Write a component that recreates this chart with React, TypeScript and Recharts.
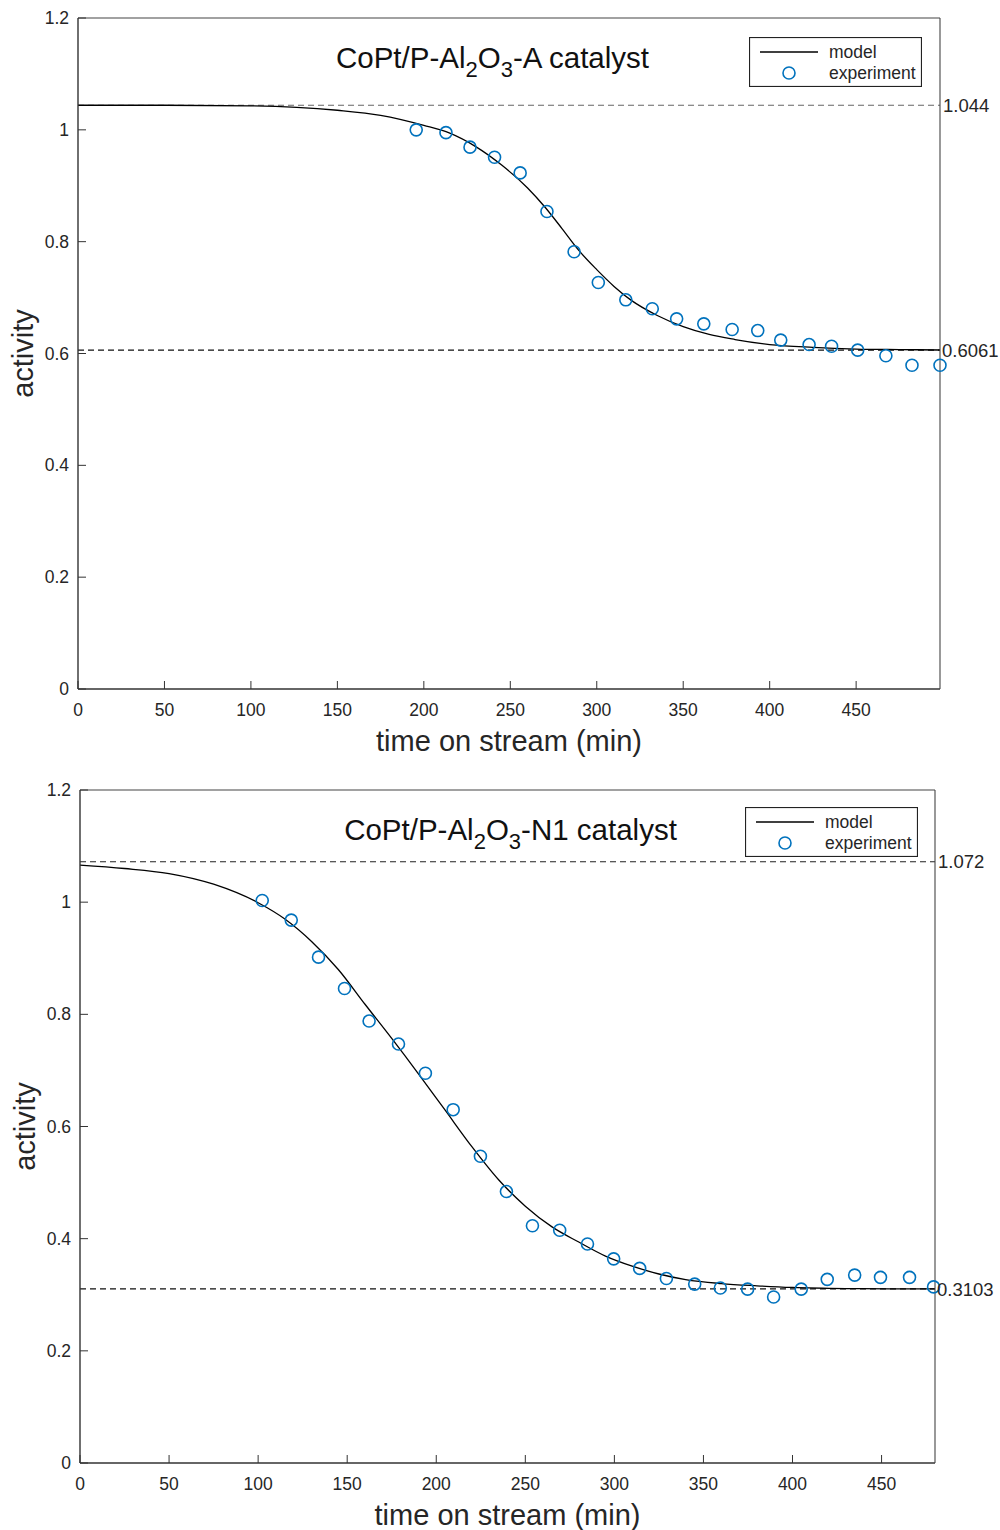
import {
  ComposedChart,
  Legend,
  Line,
  ReferenceLine,
  Scatter,
  XAxis,
  YAxis,
} from "recharts";

// catalyst A: model curve
const TOP_MODEL_T = [0, 50, 100, 150, 175, 200, 215, 230, 245, 260, 270, 280, 290, 300, 310, 320, 335, 350, 365, 380, 400, 425, 450, 475, 498.5];
const TOP_MODEL_A = [1.044, 1.044, 1.043, 1.035, 1.026, 1.008, 0.994, 0.97, 0.937, 0.896, 0.862, 0.823, 0.783, 0.75, 0.72, 0.695, 0.668, 0.648, 0.634, 0.625, 0.616, 0.611, 0.608, 0.607, 0.6063];
// catalyst A: measured points
const TOP_EXP_T = [195.6, 212.8, 226.7, 240.9, 255.7, 271.2, 286.9, 300.9, 316.8, 332.1, 346.2, 361.9, 378.3, 393.1, 406.4, 422.8, 435.8, 450.9, 467.2, 482.3, 498.5];
const TOP_EXP_A = [1.0, 0.995, 0.969, 0.951, 0.923, 0.854, 0.782, 0.727, 0.696, 0.68, 0.662, 0.653, 0.643, 0.641, 0.624, 0.616, 0.613, 0.606, 0.596, 0.579, 0.579];

// catalyst N1
const BOT_MODEL_T = [0, 25, 50, 75, 100, 115, 130, 145, 160, 175, 190, 205, 220, 235, 250, 265, 280, 295, 310, 325, 340, 360, 380, 400, 430, 455, 480];
const BOT_MODEL_A = [1.066, 1.06, 1.051, 1.032, 0.999, 0.97, 0.93, 0.88, 0.818, 0.757, 0.694, 0.629, 0.564, 0.505, 0.458, 0.421, 0.394, 0.369, 0.351, 0.337, 0.327, 0.32, 0.316, 0.313, 0.311, 0.3105, 0.3103];
const BOT_EXP_T = [102.3, 118.6, 133.9, 148.5, 162.3, 178.8, 193.9, 209.5, 224.8, 239.4, 254.0, 269.3, 284.9, 299.6, 314.2, 329.2, 345.1, 359.5, 374.8, 389.4, 404.9, 419.5, 434.9, 449.4, 465.7, 479.2];
const BOT_EXP_A = [1.003, 0.968, 0.902, 0.846, 0.788, 0.747, 0.695, 0.63, 0.547, 0.484, 0.423, 0.415, 0.3905, 0.364, 0.347, 0.329, 0.319, 0.312, 0.31, 0.296, 0.31, 0.3275, 0.335, 0.331, 0.331, 0.314];

const X_TICKS = [0, 50, 100, 150, 200, 250, 300, 350, 400, 450];
const Y_TICKS = [0, 0.2, 0.4, 0.6, 0.8, 1.0, 1.2];

const AXIS = "#333";
const TEXT = "#262626";
const BLUE = "#0072BD";
const FONT = "'Liberation Sans', Arial, Helvetica, sans-serif";

// axis band sizes (margins below are reduced by these)
const LEFT_W = 40;
const RIGHT_W = 10;
const TOP_H = 10;
const BOTTOM_H = 40;

function zip(t: number[], a: number[]) {
  return t.map((v, i) => ({ t: v, a: a[i] }));
}

function fmtY(v: number): string {
  return String(Number(v.toFixed(1)));
}

function LeftTick(props: any) {
  const { x, y, payload } = props;
  return (
    <g>
      <line x1={x} y1={y} x2={x + 8} y2={y} stroke={AXIS} />
      <text x={x - 9} y={y} dy="0.35em" textAnchor="end" fontSize={17.5} fill={TEXT} fontFamily={FONT}>
        {fmtY(payload.value)}
      </text>
    </g>
  );
}

function RightTick(props: any) {
  const { x, y } = props;
  return <line x1={x} y1={y} x2={x - 8} y2={y} stroke={AXIS} />;
}

function BottomTick(props: any) {
  const { x, y, payload } = props;
  return (
    <g>
      <line x1={x} y1={y} x2={x} y2={y - 8} stroke={AXIS} />
      <text x={x} y={y + 27} textAnchor="middle" fontSize={17.5} fill={TEXT} fontFamily={FONT}>
        {payload.value}
      </text>
    </g>
  );
}

function TopTick(props: any) {
  const { x, y } = props;
  return <line x1={x} y1={y} x2={x} y2={y + 8} stroke={AXIS} />;
}

function Dot(props: any) {
  const { cx, cy } = props;
  return <circle cx={cx} cy={cy} r={6} fill="none" stroke={BLUE} strokeWidth={1.6} />;
}

function LegendBox() {
  return (
    <svg width={173} height={50} style={{ display: "block" }}>
      <rect x={0.5} y={0.5} width={172} height={49} fill="#fff" stroke="#222" strokeWidth={1.2} />
      <line x1={11} y1={15} x2={69} y2={15} stroke="#000" strokeWidth={1.3} />
      <text x={80} y={15} dy="0.35em" fontSize={17.5} fill={TEXT} fontFamily={FONT}>model</text>
      <circle cx={40} cy={36} r={6} fill="none" stroke={BLUE} strokeWidth={1.6} />
      <text x={80} y={36} dy="0.35em" fontSize={17.5} fill={TEXT} fontFamily={FONT}>experiment</text>
    </svg>
  );
}

interface PanelProps {
  top: number;
  height: number;
  plot: { top: number; right: number; bottom: number; left: number };
  xMax: number;
  model: { t: number; a: number }[];
  exp: { t: number; a: number }[];
  upper: number;
  lower: number;
  upperLabel: string;
  lowerLabel: string;
  upperColor: string;
  suffix: string;
  titleX: number;
  legendPos: { left: number; top: number };
}

function Panel(p: PanelProps) {
  const plotLeft = p.plot.left;
  const plotTop = p.plot.top;
  const plotBottom = p.height - p.plot.bottom;
  const plotMidX = (p.plot.left + (1000 - p.plot.right)) / 2;
  const plotMidY = (plotTop + plotBottom) / 2;

  const titleLabel = () => (
    <text x={p.titleX} y={plotTop + 50} textAnchor="middle" fontSize={29.5} fill="#111" fontFamily={FONT}>
      <tspan>CoPt/P-Al</tspan>
      <tspan dy={9} fontSize={22}>2</tspan>
      <tspan dy={-9}>O</tspan>
      <tspan dy={9} fontSize={22}>3</tspan>
      <tspan dy={-9}>{p.suffix}</tspan>
    </text>
  );
  const xLabel = () => (
    <text x={plotMidX} y={plotBottom + 62} textAnchor="middle" fontSize={29} fill={TEXT} fontFamily={FONT}>
      time on stream (min)
    </text>
  );
  const yLabel = () => {
    const cx = plotLeft - 55;
    const cy = plotMidY;
    return (
      <text x={cx} y={cy} dy="0.35em" textAnchor="middle" fontSize={29} fill={TEXT} fontFamily={FONT} transform={`rotate(-90 ${cx} ${cy})`}>
        activity
      </text>
    );
  };

  const margin = {
    top: p.plot.top - TOP_H,
    right: p.plot.right - RIGHT_W,
    bottom: p.plot.bottom - BOTTOM_H,
    left: p.plot.left - LEFT_W,
  };

  return (
    <div style={{ position: "absolute", left: 0, top: p.top }}>
      <ComposedChart width={1000} height={p.height} margin={margin}>
        <XAxis
          dataKey="t"
          type="number"
          domain={[0, p.xMax]}
          ticks={X_TICKS}
          interval={0}
          height={BOTTOM_H}
          tickSize={0}
          tickMargin={0}
          tickLine={false}
          tick={BottomTick}
          axisLine={{ stroke: AXIS, strokeWidth: 1.4 }}
          label={xLabel}
        />
        <XAxis
          xAxisId="top"
          orientation="top"
          dataKey="t"
          type="number"
          domain={[0, p.xMax]}
          ticks={X_TICKS}
          interval={0}
          height={TOP_H}
          tickSize={0}
          tickMargin={0}
          tickLine={false}
          tick={TopTick}
          axisLine={{ stroke: "#444", strokeWidth: 1.1 }}
          label={titleLabel}
        />
        <YAxis
          dataKey="a"
          type="number"
          domain={[0, 1.2]}
          ticks={Y_TICKS}
          interval={0}
          width={LEFT_W}
          tickSize={0}
          tickMargin={0}
          tickLine={false}
          tick={LeftTick}
          axisLine={{ stroke: AXIS, strokeWidth: 1.4 }}
          label={yLabel}
        />
        <YAxis
          yAxisId="right"
          orientation="right"
          type="number"
          domain={[0, 1.2]}
          ticks={Y_TICKS}
          interval={0}
          width={RIGHT_W}
          tickSize={0}
          tickMargin={0}
          tickLine={false}
          tick={RightTick}
          axisLine={{ stroke: "#444", strokeWidth: 1.1 }}
        />
        <ReferenceLine
          y={p.upper}
          stroke={p.upperColor}
          strokeWidth={1.1}
          strokeDasharray="6 4"
          label={{ value: p.upperLabel, position: "right", offset: 3, fontSize: 18.5, fill: TEXT, fontFamily: FONT }}
        />
        <ReferenceLine
          y={p.lower}
          stroke="#111"
          strokeWidth={1.3}
          strokeDasharray="6 4"
          label={{ value: p.lowerLabel, position: "right", offset: 2, fontSize: 18.5, fill: TEXT, fontFamily: FONT }}
        />
        <Line
          data={p.model}
          dataKey="a"
          type="monotone"
          stroke="#000"
          strokeWidth={1.3}
          dot={false}
          activeDot={false}
          isAnimationActive={false}
          name="model"
        />
        <Scatter data={p.exp} dataKey="a" shape={Dot} isAnimationActive={false} name="experiment" />
        <Legend
          layout="horizontal"
          verticalAlign="middle"
          align="center"
          content={() => <LegendBox />}
          wrapperStyle={{ position: "absolute", left: p.legendPos.left, top: p.legendPos.top, width: 173, height: 50 }}
        />
      </ComposedChart>
    </div>
  );
}

export default function App() {
  return (
    <div style={{ position: "absolute", left: 0, top: 0, width: 1000, height: 1530, background: "#fff" }}>
      <Panel
        top={0}
        height={765}
        plot={{ top: 18, right: 60, bottom: 76, left: 78 }}
        xMax={498.5}
        model={zip(TOP_MODEL_T, TOP_MODEL_A)}
        exp={zip(TOP_EXP_T, TOP_EXP_A)}
        upper={1.044}
        lower={0.6061}
        upperLabel="1.044"
        lowerLabel="0.6061"
        upperColor="#666"
        suffix="-A catalyst"
        titleX={492.5}
        legendPos={{ left: 749, top: 37 }}
      />
      <Panel
        top={770}
        height={760}
        plot={{ top: 20, right: 65, bottom: 67, left: 80 }}
        xMax={480}
        model={zip(BOT_MODEL_T, BOT_MODEL_A)}
        exp={zip(BOT_EXP_T, BOT_EXP_A)}
        upper={1.072}
        lower={0.3103}
        upperLabel="1.072"
        lowerLabel="0.3103"
        upperColor="#222"
        suffix="-N1 catalyst"
        titleX={510.5}
        legendPos={{ left: 745, top: 37 }}
      />
    </div>
  );
}
